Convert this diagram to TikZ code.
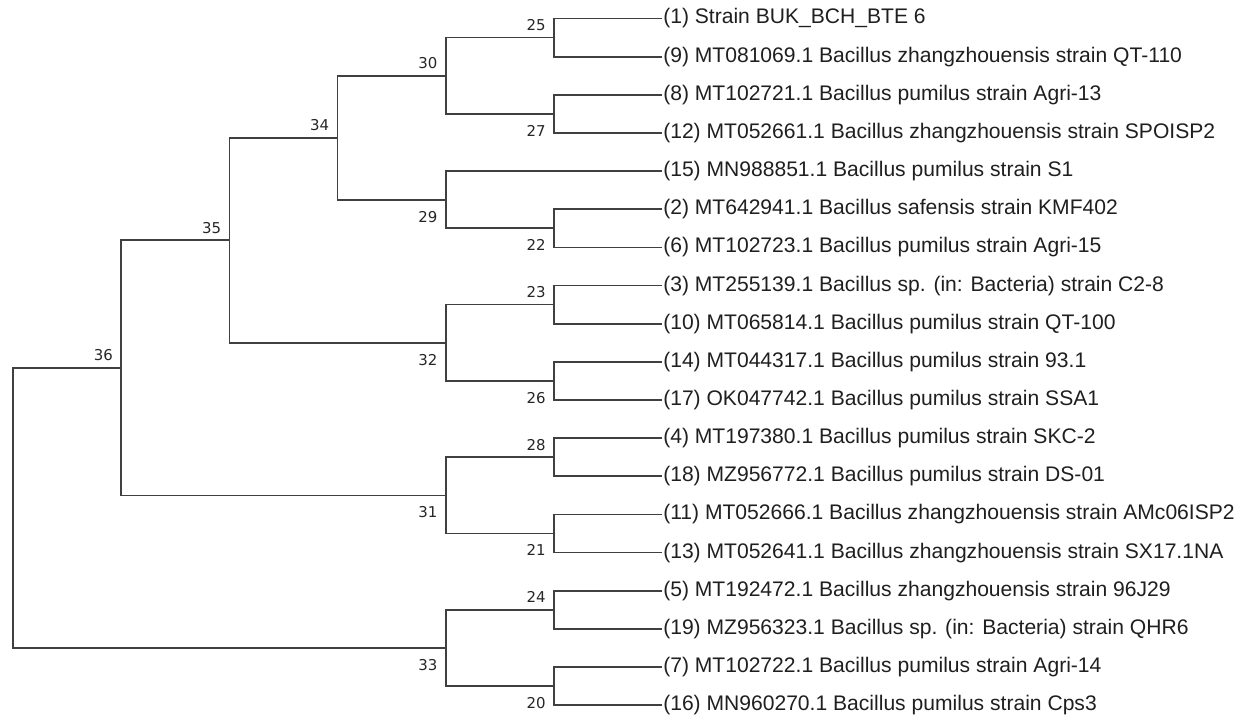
\documentclass[tikz,border=0pt]{standalone}
\usepackage{fontspec}
\setmainfont{Liberation Sans}
\newfontfamily\numfont{DejaVu Sans}
\usetikzlibrary{calc}

\tikzset{
  branch/.style={draw=black!75, line width=1pt},
  leaf/.style={anchor=west, inner sep=0pt, inner xsep=0.4pt, text height=0.8em,
               text depth=0.18em, font=\fontsize{12}{14}\selectfont, text=black!88},
  nodenum/.style={inner sep=0pt, font=\numfont\fontsize{8.5}{10}\selectfont, text=black!85}
}

\begin{document}
\begin{tikzpicture}[x=0.02cm, y=-0.02cm]
  \useasboundingbox (0,0) rectangle (1245,717);

  % Leaves, top to bottom
  \foreach \k/\txt [count=\i from 0] in {
      1/{Strain BUK\_BCH\_BTE 6},
      9/{MT081069.1 Bacillus zhangzhouensis strain QT-110},
      8/{MT102721.1 Bacillus pumilus strain Agri-13},
      12/{MT052661.1 Bacillus zhangzhouensis strain SPOISP2},
      15/{MN988851.1 Bacillus pumilus strain S1},
      2/{MT642941.1 Bacillus safensis strain KMF402},
      6/{MT102723.1 Bacillus pumilus strain Agri-15},
      3/{MT255139.1 Bacillus sp. (in: Bacteria) strain C2-8},
      10/{MT065814.1 Bacillus pumilus strain QT-100},
      14/{MT044317.1 Bacillus pumilus strain 93.1},
      17/{OK047742.1 Bacillus pumilus strain SSA1},
      4/{MT197380.1 Bacillus pumilus strain SKC-2},
      18/{MZ956772.1 Bacillus pumilus strain DS-01},
      11/{MT052666.1 Bacillus zhangzhouensis strain AMc06ISP2},
      13/{MT052641.1 Bacillus zhangzhouensis strain SX17.1NA},
      5/{MT192472.1 Bacillus zhangzhouensis strain 96J29},
      19/{MZ956323.1 Bacillus sp. (in: Bacteria) strain QHR6},
      7/{MT102722.1 Bacillus pumilus strain Agri-14},
      16/{MN960270.1 Bacillus pumilus strain Cps3}}
    \node[leaf] (s\k) at (662.2, {18.5+38.15*\i}) {(\k) \txt};

  % Internal nodes
  \coordinate (n25) at (554,37.6);
  \coordinate (n27) at (554,113.9);
  \coordinate (n22) at (554,228.3);
  \coordinate (n23) at (554,304.6);
  \coordinate (n26) at (554,380.9);
  \coordinate (n28) at (554,457.2);
  \coordinate (n21) at (554,533.5);
  \coordinate (n24) at (554,609.8);
  \coordinate (n20) at (554,686.1);
  \coordinate (n30) at (445.8,75.7);
  \coordinate (n29) at (445.8,199.7);
  \coordinate (n32) at (445.8,342.8);
  \coordinate (n31) at (445.8,495.4);
  \coordinate (n33) at (445.8,648.0);
  \coordinate (n34) at (337.6,137.7);
  \coordinate (n35) at (229.4,240.3);
  \coordinate (n36) at (121.2,367.8);
  \coordinate (root) at (13,507.9);

  % Branches
  \draw[branch] (root) |- (n36) (root) |- (n33);
  \draw[branch] (n36) |- (n35) (n36) |- (n31);
  \draw[branch] (n35) |- (n34) (n35) |- (n32);
  \draw[branch] (n34) |- (n30) (n34) |- (n29);
  \draw[branch] (n30) |- (n25) (n30) |- (n27);
  \draw[branch] (n29) |- (s15.west) (n29) |- (n22);
  \draw[branch] (n32) |- (n23) (n32) |- (n26);
  \draw[branch] (n31) |- (n28) (n31) |- (n21);
  \draw[branch] (n33) |- (n24) (n33) |- (n20);
  \draw[branch] (n25) |- (s1.west) (n25) |- (s9.west);
  \draw[branch] (n27) |- (s8.west) (n27) |- (s12.west);
  \draw[branch] (n22) |- (s2.west) (n22) |- (s6.west);
  \draw[branch] (n23) |- (s3.west) (n23) |- (s10.west);
  \draw[branch] (n26) |- (s14.west) (n26) |- (s17.west);
  \draw[branch] (n28) |- (s4.west) (n28) |- (s18.west);
  \draw[branch] (n21) |- (s11.west) (n21) |- (s13.west);
  \draw[branch] (n24) |- (s5.west) (n24) |- (s19.west);
  \draw[branch] (n20) |- (s7.west) (n20) |- (s16.west);

  % Node numbers
  \foreach \n in {25,30,34,35,36,23,28,24}
    \node[nodenum, anchor=base east] (t\n) at ([shift={(-8,-7)}]n\n) {\n};
  \foreach \n in {27,29,22,32,26,31,21,33,20}
    \node[nodenum, anchor=north east] (t\n) at ([shift={(-8,11)}]n\n) {\n};
\end{tikzpicture}
\end{document}
